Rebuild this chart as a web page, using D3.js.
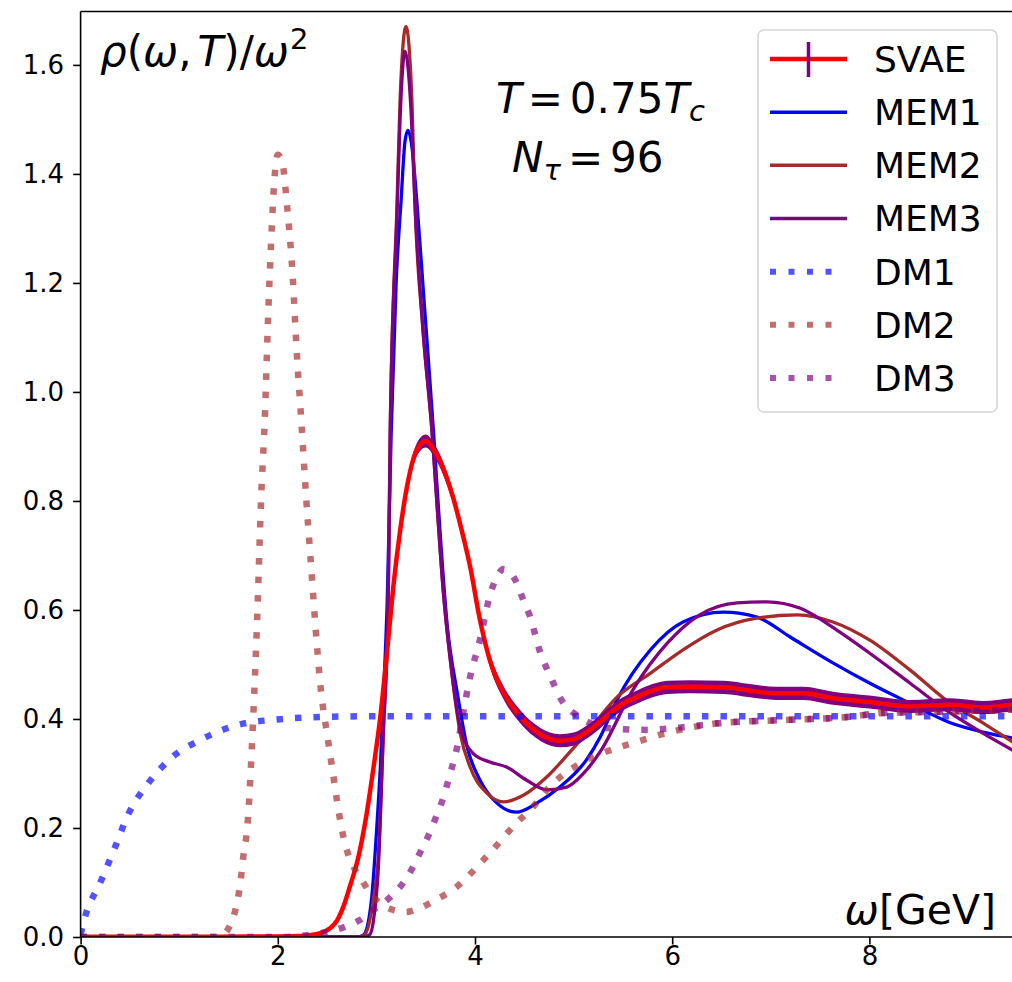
<!DOCTYPE html>
<html>
<head>
<meta charset="utf-8">
<script src="https://cdn.jsdelivr.net/npm/d3@7"></script>
<style>
  body { margin: 0; background: #fff; }
  svg { display: block; font-family: "DejaVu Sans", sans-serif; }
</style>
</head>
<body>
<svg id="chart" width="1012" height="982"></svg>
<script>
// data: [omega (GeV), rho/omega^2]
const svae = [[0,0.0005],[1.0,0.0005],[2.0,0.001],[2.23,0.002],[2.43,0.007],[2.53,0.016],[2.6,0.03],[2.67,0.058],
  [2.74,0.098],[2.81,0.141],[2.9,0.225],[2.97,0.31],[3.04,0.404],[3.11,0.527],[3.17,0.64],[3.24,0.745],[3.31,0.826],
  [3.41,0.894],[3.5,0.91],[3.58,0.895],[3.64,0.875],[3.78,0.805],[3.88,0.735],[3.95,0.68],[4.05,0.582],[4.15,0.508],
  [4.29,0.448],[4.46,0.404],[4.66,0.372],[4.86,0.36],[5.0,0.363],[5.1,0.372],[5.27,0.395],[5.37,0.411],[5.5,0.428],
  [5.64,0.44],[5.8,0.452],[5.95,0.458],[6.18,0.459],[6.52,0.458],[6.79,0.452],[7.06,0.447],[7.33,0.447],[7.63,0.438],
  [8.0,0.431],[8.41,0.423],[8.82,0.426],[9.15,0.421],[9.45,0.426],[10,0.43]];
const mem1 = [[0,0],[2.8,0],[2.87,0.004],[2.95,0.068],[3.0,0.19],[3.04,0.312],[3.07,0.435],[3.11,0.618],[3.15,0.925],
  [3.2,1.2],[3.25,1.35],[3.29,1.46],[3.32,1.48],[3.36,1.45],[3.41,1.35],[3.48,1.175],[3.58,0.925],[3.61,0.84],
  [3.72,0.569],[3.82,0.448],[3.92,0.349],[4.05,0.288],[4.22,0.246],[4.42,0.229],[4.63,0.246],[4.86,0.275],[5.13,0.325],
  [5.27,0.367],[5.44,0.435],[5.78,0.527],[6.11,0.578],[6.52,0.596],[6.86,0.587],[7.2,0.55],[7.63,0.503],[8.0,0.466],
  [8.41,0.429],[8.82,0.393],[9.15,0.376],[9.45,0.365],[10,0.345]];
const mem2 = [[0,0],[2.8,0],[2.88,0.004],[2.97,0.07],[3.02,0.15],[3.07,0.374],[3.12,0.618],[3.14,0.925],[3.21,1.35],
  [3.24,1.536],[3.3,1.67],[3.36,1.536],[3.39,1.35],[3.47,1.12],[3.565,0.925],[3.62,0.78],[3.68,0.631],[3.75,0.508],
  [3.85,0.374],[3.95,0.312],[4.12,0.264],[4.29,0.248],[4.49,0.26],[4.73,0.294],[5.0,0.347],[5.1,0.367],[5.44,0.44],
  [5.78,0.484],[6.11,0.527],[6.45,0.563],[6.86,0.585],[7.27,0.591],[7.63,0.578],[8.0,0.545],[8.41,0.49],[8.82,0.429],
  [9.15,0.393],[9.45,0.358],[10,0.3]];
const mem3 = [[0,0],[2.85,0],[2.93,0.004],[2.97,0.03],[3.02,0.128],[3.07,0.374],[3.12,0.618],[3.14,0.925],[3.21,1.33],
  [3.24,1.5],[3.29,1.625],[3.35,1.52],[3.39,1.35],[3.47,1.12],[3.565,0.925],[3.62,0.78],[3.68,0.631],[3.75,0.508],
  [3.85,0.385],[3.98,0.337],[4.15,0.321],[4.32,0.312],[4.52,0.288],[4.73,0.27],[4.93,0.275],[5.1,0.3],[5.27,0.34],
  [5.6,0.453],[5.95,0.539],[6.28,0.591],[6.66,0.613],[6.96,0.615],[7.3,0.603],[7.67,0.563],[8.0,0.521],[8.41,0.466],
  [8.82,0.411],[9.15,0.374],[9.45,0.343],[10,0.29]];
const dm1 = [[0,0.005],[0.045,0.037],[0.2,0.1],[0.35,0.165],[0.48,0.224],[0.69,0.283],[0.93,0.33],[1.21,0.361],
  [1.59,0.389],[1.99,0.399],[2.5,0.404],[3,0.405],[4,0.405],[6,0.405],[8,0.405],[10,0.405]];
const dm2 = [[0,0],[1.4,0],[1.5,0.016],[1.57,0.05],[1.62,0.099],[1.65,0.147],[1.69,0.2],[1.75,0.4],[1.79,0.58],
  [1.83,0.8],[1.87,0.961],[1.9,1.128],[1.93,1.266],[1.97,1.4],[2.0,1.435],[2.05,1.417],[2.09,1.349],[2.15,1.215],
  [2.19,1.08],[2.24,0.943],[2.29,0.8],[2.33,0.7],[2.38,0.575],[2.43,0.466],[2.51,0.36],[2.56,0.3],[2.6,0.25],
  [2.67,0.18],[2.77,0.128],[2.85,0.105],[2.94,0.08],[3.1,0.055],[3.3,0.046],[3.44,0.053],[3.6,0.068],[3.77,0.086],
  [4.15,0.154],[4.42,0.209],[4.56,0.233],[4.79,0.282],[4.96,0.306],[5.1,0.322],[5.3,0.338],[5.64,0.358],[5.98,0.376],
  [6.52,0.393],[7.13,0.398],[7.8,0.404],[8.14,0.411],[8.65,0.413],[9.43,0.417],[10,0.42]];
const dm3 = [[0,0],[2.0,0],[2.4,0.006],[2.67,0.018],[2.83,0.031],[2.97,0.05],[3.14,0.073],[3.27,0.099],[3.37,0.128],
  [3.44,0.154],[3.53,0.187],[3.6,0.218],[3.67,0.251],[3.75,0.301],[3.82,0.349],[3.88,0.411],[3.95,0.477],[4.05,0.545],
  [4.15,0.626],[4.22,0.66],[4.29,0.675],[4.36,0.668],[4.42,0.651],[4.49,0.618],[4.56,0.587],[4.66,0.523],[4.76,0.48],
  [4.89,0.431],[5.03,0.407],[5.2,0.39],[5.37,0.383],[5.74,0.38],[6.11,0.385],[6.52,0.393],[7.13,0.398],[7.8,0.404],
  [8.14,0.411],[8.65,0.413],[9.43,0.417],[10,0.42]];

const xTicks = [0, 2, 4, 6, 8];
const yTicks = [0, 0.2, 0.4, 0.6, 0.8, 1.0, 1.2, 1.4, 1.6];
const legendLabels = ['SVAE', 'MEM1', 'MEM2', 'MEM3', 'DM1', 'DM2', 'DM3'];
const svaeErr = 0.012;

const svg = d3.select('#chart');
const plotLeft = 80.6, plotTop = 11.5, plotBottom = 937;

const x = d3.scaleLinear().domain([0, 10]).range([plotLeft, plotLeft + 986]);
const y = d3.scaleLinear().domain([0, 1.698]).range([plotBottom, plotTop]);

svg.append('clipPath').attr('id', 'clip')
  .append('rect').attr('x', plotLeft).attr('y', plotTop)
  .attr('width', 1012 - plotLeft).attr('height', plotBottom - plotTop);

const plot = svg.append('g').attr('clip-path', 'url(#clip)');

const line = d3.line().x(d => x(d[0])).y(d => y(d[1])).curve(d3.curveMonotoneX);
// error band shrinks where the spectrum is ~0
const errAt = v => svaeErr * Math.min(1, v / 0.15);
const band = d3.area().x(d => x(d[0]))
  .y0(d => y(d[1] - errAt(d[1]))).y1(d => y(d[1] + errAt(d[1]))).curve(d3.curveMonotoneX);

const dotted = '6.5 12';
const series = [
  { data: mem1, color: '#0000ff', width: 3.3 },
  { data: mem2, color: '#a52a2a', width: 3.3 },
  { data: mem3, color: '#800080', width: 3.3 }
];
series.forEach(s => {
  plot.append('path').attr('d', line(s.data)).attr('fill', 'none')
    .attr('stroke', s.color).attr('stroke-width', s.width);
});

// SVAE with its error band
plot.append('path').attr('d', band(svae)).attr('fill', '#800080');
plot.append('path').attr('d', line(svae)).attr('fill', 'none')
  .attr('stroke', '#ff0000').attr('stroke-width', 4.5);

const dms = [
  { data: dm1, color: '#0000ff' },
  { data: dm2, color: '#a52a2a' },
  { data: dm3, color: '#800080' }
];
dms.forEach(s => {
  plot.append('path').attr('d', line(s.data)).attr('fill', 'none')
    .attr('stroke', s.color).attr('stroke-opacity', 0.68).attr('stroke-width', 6.5)
    .attr('stroke-dasharray', dotted);
});

// axes
const yAxis = svg.append('g').attr('transform', `translate(${plotLeft},0)`)
  .call(d3.axisLeft(y).tickValues(yTicks).tickFormat(d3.format('.1f')).tickSize(7.5).tickPadding(9));
const xAxis = svg.append('g').attr('transform', `translate(0,${plotBottom})`)
  .call(d3.axisBottom(x).tickValues(xTicks).tickSize(7.5).tickPadding(2));
[yAxis, xAxis].forEach(a => {
  a.select('.domain').remove();
  a.selectAll('line').attr('stroke', '#000').attr('stroke-width', 1.6);
  a.selectAll('text').attr('font-size', 26).attr('fill', '#000').attr('font-family', 'DejaVu Sans');
});

// frame (left, top, bottom spines)
svg.append('line').attr('x1', plotLeft).attr('x2', plotLeft).attr('y1', plotTop).attr('y2', plotBottom)
  .attr('stroke', '#000').attr('stroke-width', 1.6);
svg.append('line').attr('x1', plotLeft).attr('x2', 1012).attr('y1', plotTop).attr('y2', plotTop)
  .attr('stroke', '#000').attr('stroke-width', 1.6);
svg.append('line').attr('x1', plotLeft).attr('x2', 1012).attr('y1', plotBottom).attr('y2', plotBottom)
  .attr('stroke', '#000').attr('stroke-width', 1.6);

// texts (math-like, tight spacing)
const yl = svg.append('text').attr('x', 100).attr('y', 66).attr('font-size', 42);
yl.append('tspan').attr('font-style', 'italic').text('ρ');
yl.append('tspan').text('(');
yl.append('tspan').attr('font-style', 'italic').text('ω');
yl.append('tspan').text(',');
yl.append('tspan').attr('font-style', 'italic').attr('dx', 6).text('T');
yl.append('tspan').text(')/');
yl.append('tspan').attr('font-style', 'italic').text('ω');
yl.append('tspan').attr('font-size', 29).attr('dy', -17).attr('dx', 1).text('2');

const t1 = svg.append('text').attr('x', 496).attr('y', 113).attr('font-size', 42);
t1.append('tspan').attr('font-style', 'italic').text('T');
t1.append('tspan').attr('dx', 6).text('=');
t1.append('tspan').attr('dx', 7).text('0.75');
t1.append('tspan').attr('font-style', 'italic').text('T');
t1.append('tspan').attr('font-style', 'italic').attr('font-size', 29).attr('dy', 8).text('c');

const t2 = svg.append('text').attr('x', 512).attr('y', 172).attr('font-size', 42);
t2.append('tspan').attr('font-style', 'italic').text('N');
t2.append('tspan').attr('font-style', 'italic').attr('font-size', 29).attr('dy', 8).text('τ');
t2.append('tspan').attr('dy', -8).attr('dx', 7).text('=');
t2.append('tspan').attr('dx', 7).text('96');

const xl = svg.append('text').attr('x', 996).attr('y', 924).attr('font-size', 41).attr('text-anchor', 'end');
xl.append('tspan').attr('font-style', 'italic').text('ω');
xl.append('tspan').text('[GeV]');

// legend
const lg = svg.append('g');
lg.append('rect').attr('x', 758).attr('y', 30).attr('width', 239).attr('height', 382).attr('rx', 6)
  .attr('fill', '#fff').attr('fill-opacity', 0.85).attr('stroke', '#d6d6d6').attr('stroke-width', 1.6);
const handles = [
  { color: '#ff0000', width: 4.5 }, { color: '#0000ff', width: 3.5 }, { color: '#a52a2a', width: 3.5 },
  { color: '#800080', width: 3.5 }, { color: '#0000ff', dash: true }, { color: '#a52a2a', dash: true },
  { color: '#800080', dash: true }
];
const rowY = d3.scaleLinear().domain([0, 6]).range([59, 378]);
legendLabels.forEach((lab, i) => {
  const h = handles[i], cy = rowY(i);
  const hl = lg.append('line').attr('x1', 770).attr('x2', 847).attr('y1', cy).attr('y2', cy)
    .attr('stroke', h.color);
  if (h.dash) {
    hl.attr('stroke-width', 6).attr('stroke-opacity', 0.68).attr('stroke-dasharray', '6 12.5').attr('x2', 840);
  } else {
    hl.attr('stroke-width', h.width);
  }
  if (i === 0) {
    lg.append('line').attr('x1', 808.5).attr('x2', 808.5).attr('y1', cy - 17).attr('y2', cy + 18)
      .attr('stroke', '#800080').attr('stroke-width', 3.5);
  }
  lg.append('text').attr('x', 874).attr('y', cy).attr('dy', '0.36em').attr('font-size', 36).text(lab);
});
</script>
</body>
</html>
